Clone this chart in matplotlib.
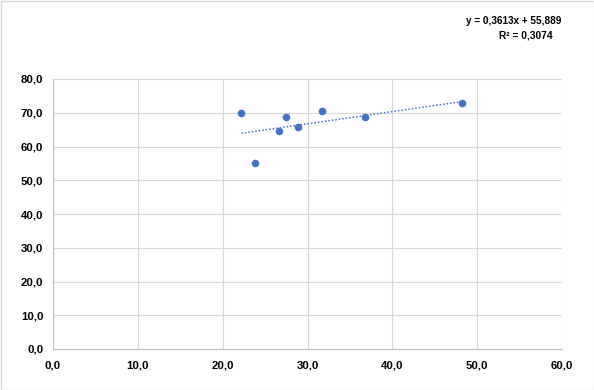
import matplotlib
matplotlib.use("Agg")
import matplotlib.pyplot as plt
import numpy as np
from matplotlib.ticker import FuncFormatter, MultipleLocator

x_vals = [22.2, 23.85, 26.6, 27.45, 28.9, 31.75, 36.8, 48.2]
y_vals = [69.8, 55.2, 64.45, 68.8, 65.7, 70.6, 68.6, 72.8]
slope = 0.3613
intercept = 55.889
eq_text = "y = 0,3613x + 55,889"
r2_text = "R² = 0,3074"

plt.rcParams['font.family'] = ['Liberation Sans', 'DejaVu Sans']

fig = plt.figure(figsize=(5.94, 3.90), dpi=100)
ax = fig.add_axes([53/594, 1-349/390, (562-53)/594, (349-79)/390])

blue = "#4472C4"
ax.scatter(x_vals, y_vals, s=30, color=blue, zorder=3, linewidths=0)
xs = np.array([min(x_vals), max(x_vals)])
ax.plot(xs, slope*xs + intercept, linestyle=(0, (1, 1.3)), color=blue, linewidth=1.1, zorder=2)

ax.set_xlim(0, 60)
ax.set_ylim(0, 80)
ax.xaxis.set_major_locator(MultipleLocator(10))
ax.yaxis.set_major_locator(MultipleLocator(10))
fmt = FuncFormatter(lambda v, p: f"{v:.1f}".replace(".", ","))
ax.xaxis.set_major_formatter(fmt)
ax.yaxis.set_major_formatter(fmt)
ax.grid(True, color="#d9d9d9", linewidth=0.8)
ax.set_axisbelow(True)
for s in ["top", "right"]:
    ax.spines[s].set_visible(False)
for s in ["left", "bottom"]:
    ax.spines[s].set_color("#bfbfbf")
    ax.spines[s].set_linewidth(0.8)
ax.tick_params(axis="both", length=0, labelsize=8.2, colors="#000000")
ax.tick_params(axis="x", pad=8)
ax.tick_params(axis="y", pad=7)
for lab in ax.get_xticklabels() + ax.get_yticklabels():
    lab.set_fontweight("bold")

fig.text(514/594, 1-21/390, eq_text, ha="center", va="center", fontsize=7.2, fontweight="bold")
fig.text(526/594, 1-36/390, r2_text, ha="center", va="center", fontsize=7.4, fontweight="bold")

border = plt.Rectangle((0.5/594, 0.5/390), 1-1/594, 1-1/390, transform=fig.transFigure,
                       fill=False, edgecolor="#d9d9d9", linewidth=1)
fig.patches.append(border)

fig.savefig("out.png", dpi=100)
